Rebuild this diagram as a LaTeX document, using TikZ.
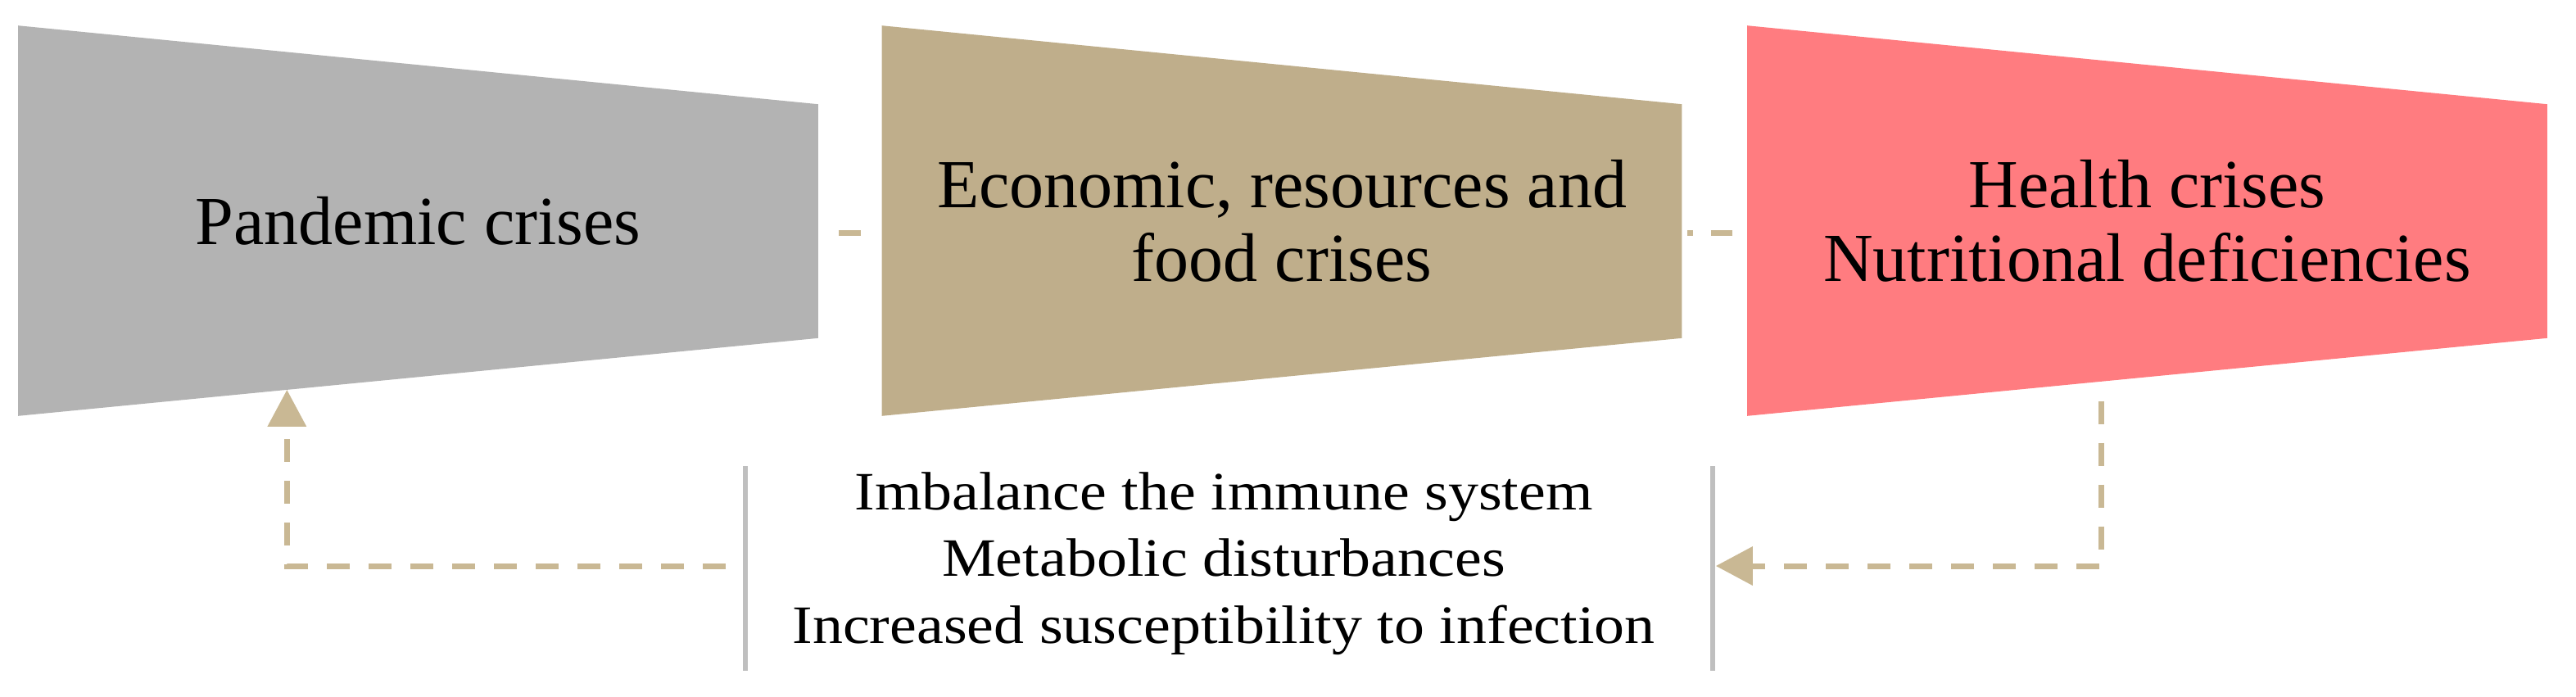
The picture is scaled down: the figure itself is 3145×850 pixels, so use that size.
\documentclass[tikz,border=0pt]{standalone}
\usepackage{fontspec}
\setmainfont{Liberation Serif}
\newfontfamily\lowfont[FakeStretch=1.12]{Liberation Serif}
\usetikzlibrary{arrows.meta,calc,backgrounds}
\definecolor{cgray}{HTML}{B3B3B3}
\definecolor{ctan}{HTML}{BFAE8B}
\definecolor{cred}{HTML}{FF7C80}
\definecolor{cdash}{HTML}{C9B894}
\definecolor{cbar}{HTML}{BFBFBF}
\begin{document}
\begin{tikzpicture}[x=0.25pt,y=-0.25pt,
  shapebox/.style={minimum width=243.75pt,minimum height=118.75pt,inner sep=0pt,align=center,
    font=\fontsize{21}{22.5}\selectfont},
  lowtxt/.style={inner sep=0pt,align=center,font=\lowfont\fontsize{16.5}{20.4}\selectfont},
  barbox/.style={minimum width=294.75pt,minimum height=62pt,inner sep=0pt},
  bar/.style={draw=cbar,line width=1.5pt},
  link/.style={draw=cdash,line width=1.75pt},
  flow/.style={draw=cdash,line width=1.75pt,dash pattern=on 7pt off 5.75pt,
    -{Triangle[length=11.25pt,width=11.5pt]}}]
\useasboundingbox (0,0) rectangle (3145,850);
\node[shapebox] (p) at (510.5,269.5) {Pandemic crises};
\node[shapebox] (e) at (1565,269.5) {Economic, resources and\\food crises};
\node[shapebox] (h) at (2621.5,269.5) {Health crises\\Nutritional deficiencies};
\foreach \n in {p,e,h}{
  \coordinate (\n ne) at ($(\n.north east)+(0,96)$);
  \coordinate (\n se) at ($(\n.south east)+(0,-95)$);
}
\begin{pgfonlayer}{background}
  \fill[cgray] (p.north west) -- (pne) -- (pse) -- (p.south west) -- cycle;
  \fill[ctan] (e.north west) -- (ene) -- (ese) -- (e.south west) -- cycle;
  \fill[cred] (h.north west) -- (hne) -- (hse) -- (h.south west) -- cycle;
\end{pgfonlayer}
\draw[link] ($(p.east)+(25,15)$) -- ($(e.west)+(-26,15)$);
\draw[link,dash pattern=on 1.75pt off 5.5pt on 7.5pt off 5pt] ($(e.east)+(7,15)$) -- ($(h.west)+(-18,15)$);
\node[lowtxt] (t) at (1494,688) {Imbalance the immune system\\Metabolic disturbances\\Increased susceptibility to infection};
\node[barbox] (bx) at (1500.5,694) {};
\draw[bar] (bx.north west) -- (bx.south west);
\draw[bar] (bx.north east) -- (bx.south east);
\coordinate (pa) at ($(p.south west)!0.336!(pse)$);
\coordinate (ha) at ($(h.south west)!0.443!(hse)$);
\draw[flow] ($(bx.west)+(-24,-3)$) -| (pa);
\draw[flow] ($(ha)+(0,24)$) |- ($(bx.east)+(4,-3)$);
\end{tikzpicture}
\end{document}
